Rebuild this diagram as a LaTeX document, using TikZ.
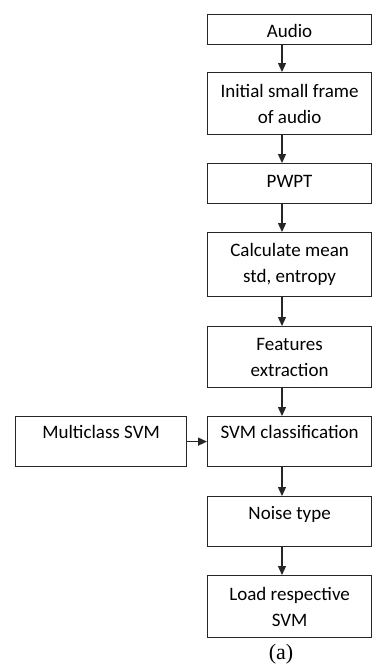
\documentclass[tikz,border=0pt]{standalone}
\usepackage{fontspec}
\setmainfont{Carlito}
\newfontfamily\capfont{Liberation Serif}
\usetikzlibrary{arrows.meta}
\begin{document}
\begin{tikzpicture}[x=1pt,y=-1pt,
        box/.style={draw=black!85, line width=1.2pt, inner sep=0pt,
                minimum width=164pt, anchor=north west, align=center,
                font=\fontsize{19}{26}\selectfont},
        twoline/.style={box, minimum height=#1},
        oneline/.style={box, text height=23pt, text depth=#1},
        flow/.style={line width=1.2pt, draw=black!85,
                -{Triangle[length=9pt,width=8pt]}}]
                                \useasboundingbox (0,0) rectangle (372,664);

                                % main column
                                \node[oneline=7pt] (audio) at (207,14) {Audio};
                                \node[twoline=62pt] (frame) at (207,72) {Initial small frame\\of audio};
                                \node[box, text height=24pt, text depth=16pt] (pwpt) at (207,163) {PWPT};
                                \node[twoline=64pt] (stats) at (207,232) {Calculate mean\\std, entropy};
                                \node[twoline=61pt] (feat) at (207,326) {Features\\extraction};
                                \node[box, text height=22pt, text depth=28pt] (svm) at (207,416) {SVM classification};
                                \node[oneline=27pt] (noise) at (207,496) {Noise type};
                                \node[twoline=62pt] (load) at (207,575) {Load respective\\SVM};

                                % side box
                                \node[box, text height=22pt, text depth=28pt, minimum width=171pt] (multi) at (15,416) {Multiclass SVM};

                                \coordinate (axis) at (282,0);
                                \draw[flow] (audio.south -| axis) -- (frame.north -| axis);
                                \draw[flow] (frame.south -| axis) -- (pwpt.north -| axis);
                                \draw[flow] (pwpt.south -| axis) -- (stats.north -| axis);
                                \draw[flow] (stats.south -| axis) -- (feat.north -| axis);
                                \draw[flow] (feat.south -| axis) -- (svm.north -| axis);
                                \draw[flow] (svm.south -| axis) -- (noise.north -| axis);
                                \draw[flow] (noise.south -| axis) -- (load.north -| axis);
                                \draw[flow] (multi.east) -- (svm.west);

                                \node[font=\capfont\fontsize{22}{22}\selectfont, anchor=base] (cap) at (281,659) {(a)};
                            \end{tikzpicture}
\end{document}
